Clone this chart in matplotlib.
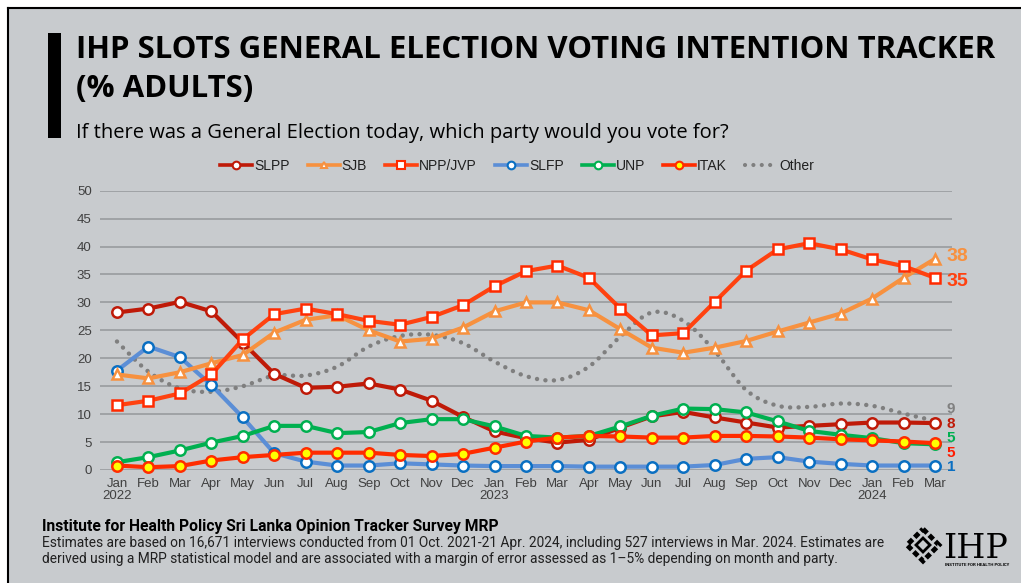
import numpy as np
import matplotlib
matplotlib.use("Agg")
import matplotlib.pyplot as plt
from matplotlib.lines import Line2D
from matplotlib.patches import Rectangle, Polygon

# ---------------- data ----------------
months = ["Jan", "Feb", "Mar", "Apr", "May", "Jun", "Jul", "Aug", "Sep", "Oct", "Nov", "Dec",
          "Jan", "Feb", "Mar", "Apr", "May", "Jun", "Jul", "Aug", "Sep", "Oct", "Nov", "Dec",
          "Jan", "Feb", "Mar"]
year_labels = {0: "2022", 12: "2023", 24: "2024"}

slpp = [28.2, 28.9, 30.1, 28.4, 22.8, 17.2, 14.7, 14.9, 15.5, 14.4, 12.4, 9.5,
        6.9, 5.7, 4.9, 5.4, 7.6, 9.6, 10.4, 9.4, 8.5, 7.6, 7.9, 8.2,
        8.5, 8.5, 8.4]
sjb = [17.1, 16.4, 17.5, 19.1, 20.6, 24.6, 26.9, 27.7, 25.0, 23.0, 23.5, 25.5,
       28.4, 30.0, 30.0, 28.6, 25.2, 21.9, 21.0, 21.9, 23.1, 24.8, 26.4, 28.0,
       30.7, 34.4, 37.8]
npp = [11.6, 12.4, 13.7, 17.1, 23.4, 27.9, 28.9, 27.9, 26.7, 26.0, 27.4, 29.5,
       32.9, 35.6, 36.6, 34.4, 28.9, 24.1, 24.5, 30.1, 35.7, 39.5, 40.6, 39.5,
       37.7, 36.5, 34.4]
slfp = [17.8, 22.1, 20.2, 15.2, 9.4, 3.0, 1.5, 0.8, 0.8, 1.2, 1.0, 0.8,
        0.7, 0.7, 0.7, 0.6, 0.6, 0.6, 0.6, 0.9, 2.0, 2.3, 1.5, 1.1,
        0.8, 0.8, 0.8]
unp = [1.4, 2.3, 3.5, 4.9, 6.1, 7.9, 7.9, 6.6, 6.8, 8.4, 9.1, 9.1,
       7.8, 6.1, 5.8, 6.1, 7.8, 9.7, 11.0, 10.9, 10.3, 8.7, 7.0, 6.3,
       5.7, 4.8, 4.6]
itak = [0.8, 0.5, 0.7, 1.7, 2.3, 2.7, 3.1, 3.1, 3.1, 2.7, 2.5, 2.9,
        4.0, 5.1, 5.8, 6.1, 6.0, 5.8, 5.8, 6.1, 6.1, 6.0, 5.8, 5.5,
        5.3, 5.1, 4.8]
other = [23.0, 17.6, 14.6, 14.0, 15.0, 16.9, 16.9, 18.5, 22.1, 24.0, 24.2, 22.7,
         19.4, 16.8, 16.1, 18.5, 23.9, 28.2, 26.7, 21.3, 14.3, 11.5, 11.3, 11.9,
         11.5, 10.1, 8.8]

end_labels = ["38", "35", "9", "8", "5", "5", "1"]
y_ticks = [0, 5, 10, 15, 20, 25, 30, 35, 40, 45, 50]

# ---------------- style ----------------
W, H = 1021, 583
BG = "#C8CBCE"
GRID = "#9C9FA2"
C_SLPP = "#BF1A08"
C_SJB = "#F7913F"
C_NPP = "#FF4210"
C_NPP_E = "#FF2A00"
C_SLFP = "#5B8ED6"
C_SLFP_E = "#0A6FC2"
C_UNP = "#00B050"
C_ITAK = "#FF2C00"
C_OTHER = "#7F7F7F"
TXT = "#404040"


def fx(px):
    return px / W


def fy(py):
    return 1 - py / H


def catmull(x, y, n=16):
    pts = np.column_stack([x, y]).astype(float)
    P = np.vstack([pts[0], pts, pts[-1]])
    out = []
    t = np.linspace(0, 1, n, endpoint=False)[:, None]
    for i in range(len(pts) - 1):
        p0, p1, p2, p3 = P[i], P[i + 1], P[i + 2], P[i + 3]
        seg = 0.5 * (2 * p1 + (-p0 + p2) * t + (2 * p0 - 5 * p1 + 4 * p2 - p3) * t ** 2
                     + (-p0 + 3 * p1 - 3 * p2 + p3) * t ** 3)
        out.append(seg)
    out.append(pts[-1:])
    return np.vstack(out)


fig = plt.figure(figsize=(W / 100, H / 100), dpi=100, facecolor="white")
renderer = fig.canvas.get_renderer()


def fit_width(t, target_px):
    w = t.get_window_extent(renderer).width
    if w > 0:
        t.set_fontsize(t.get_fontsize() * target_px / w)
    return t.get_fontsize()


# background panel with black left/top border
fig.patches.append(Rectangle((fx(7.5), 0), 1 - fx(7.5), fy(7.5), transform=fig.transFigure,
                             facecolor=BG, edgecolor="none", zorder=-10))
fig.lines.append(Line2D([fx(7.5), fx(7.5)], [0, fy(7.5)], transform=fig.transFigure,
                        color="black", lw=1.5, zorder=-5))
fig.lines.append(Line2D([fx(7.5), 1], [fy(7.5), fy(7.5)], transform=fig.transFigure,
                        color="black", lw=1.5, zorder=-5))
# black vertical bar by title
fig.patches.append(Rectangle((fx(48), fy(138)), fx(13), (138 - 33) / H, transform=fig.transFigure,
                             facecolor="black", edgecolor="none", zorder=-5))

# titles
t1 = fig.text(fx(76), fy(58), "IHP SLOTS GENERAL ELECTION VOTING INTENTION TRACKER",
              fontfamily="Open Sans", fontweight="bold", fontsize=21.5, color="black", va="baseline")
ts = fit_width(t1, 919)
fig.text(fx(76), fy(97), "(% ADULTS)",
         fontfamily="Open Sans", fontweight="bold", fontsize=ts, color="black", va="baseline")
t3 = fig.text(fx(76), fy(138), "If there was a General Election today, which party would you vote for?",
              fontfamily="Open Sans", fontsize=13.5, color="black", va="baseline")
fit_width(t3, 652)

# axes
ax = fig.add_axes([fx(100), fy(470), fx(952 - 100), (470 - 190.7) / H])
ax.set_facecolor("none")
x = np.arange(len(months))
ax.set_xlim(-0.54, len(months) - 1 + 0.54)
ax.set_ylim(0, 50)
ax.set_yticks(y_ticks)
ax.yaxis.grid(True, color=GRID, lw=1.3)
ax.set_axisbelow(True)
for s in ax.spines.values():
    s.set_visible(False)
ax.tick_params(length=0, labelsize=9.5, labelcolor=TXT, pad=6)
ax.set_xticks(x)
ax.set_xticklabels([m + ("\n" + year_labels[i] if i in year_labels else "")
                    for i, m in enumerate(months)], fontfamily="Liberation Sans", linespacing=1.0)
for lab in ax.get_yticklabels():
    lab.set_fontfamily("Liberation Sans")

# Other (smoothed dotted line)
sm = catmull(x, other)
ax.plot(sm[:, 0], sm[:, 1], color=C_OTHER, lw=3.2, linestyle=(0, (0.01, 1.9)),
        dash_capstyle="round", zorder=2, clip_on=False)

lw = 3.0
ms = 7.5
mew = 1.8
series = [
    (slfp, C_SLFP, "o", "white", C_SLFP_E, 3),
    (slpp, C_SLPP, "o", "white", C_SLPP, 4),
    (unp, C_UNP, "o", "white", C_UNP, 5),
    (sjb, C_SJB, "^", "white", C_SJB, 6),
    (npp, C_NPP, "s", "white", C_NPP_E, 7),
    (itak, C_ITAK, "o", "#FFFF00", C_ITAK, 8),
]
for vals, col, mk, mfc, mec, z in series:
    ax.plot(x, vals, color=col, lw=lw, solid_joinstyle="round", zorder=z, clip_on=False)
    ax.plot(x, vals, linestyle="none", marker=mk, ms=ms if mk != "^" else ms - 0.5,
            mfc=mfc, mec=mec, mew=mew, zorder=z + 0.5, clip_on=False)

# end labels (offsets in data units chosen to avoid collisions)
last = len(months) - 1
label_specs = [
    (sjb[-1] + 0.4, C_SJB, 14),
    (npp[-1] - 0.6, C_NPP, 14),
    (other[-1] + 2.1, "#808080", 11),
    (slpp[-1] - 0.1, C_SLPP, 11),
    (unp[-1] + 1.1, C_UNP, 11),
    (itak[-1] - 1.67, "#FF1A00", 11),
    (slfp[-1] - 0.3, C_SLFP_E, 11),
]
for txt, (yv, col, fsz) in zip(end_labels, label_specs):
    ax.text(last + 0.38, yv, txt, color=col, fontsize=fsz, fontweight="bold",
            fontfamily="Liberation Sans", va="center", ha="left", clip_on=False)

# legend
handles = [
    Line2D([], [], color=C_SLPP, lw=2.6, marker="o", ms=5.5, mfc="white", mec=C_SLPP, mew=1.5),
    Line2D([], [], color=C_SJB, lw=2.6, marker="^", ms=5, mfc="white", mec=C_SJB, mew=1.5),
    Line2D([], [], color=C_NPP, lw=2.6, marker="s", ms=5.5, mfc="white", mec=C_NPP_E, mew=1.5),
    Line2D([], [], color=C_SLFP, lw=2.6, marker="o", ms=5.5, mfc="white", mec=C_SLFP_E, mew=1.5),
    Line2D([], [], color=C_UNP, lw=2.6, marker="o", ms=5.5, mfc="white", mec=C_UNP, mew=1.5),
    Line2D([], [], color=C_ITAK, lw=2.6, marker="o", ms=5.5, mfc="#FFFF00", mec=C_ITAK, mew=1.5),
    Line2D([], [], color=C_OTHER, lw=3.0, linestyle=(0, (0.01, 2.0)), dash_capstyle="round"),
]
names = ["SLPP", "SJB", "NPP/JVP", "SLFP", "UNP", "ITAK", "Other"]
leg = fig.legend(handles, names, loc="center", bbox_to_anchor=(fx(517), fy(166)), ncol=7,
                 frameon=False, handlelength=2.3, handletextpad=0.15, columnspacing=1.3,
                 prop={"family": "Liberation Sans", "size": 10})
for t in leg.get_texts():
    t.set_color("#202020")
for h in leg.legend_handles:
    if isinstance(h, Line2D):
        h.set_dash_capstyle("round")

# footer
f1 = fig.text(fx(42), fy(531), "Institute for Health Policy Sri Lanka Opinion Tracker Survey MRP",
              fontfamily="Roboto", fontweight="bold", fontsize=10.5, color="black", va="baseline")
fit_width(f1, 459)
f2 = fig.text(fx(42), fy(547),
              "Estimates are based on 16,671 interviews conducted from 01 Oct. 2021-21 Apr. 2024, including 527 interviews in Mar. 2024. Estimates are",
              fontfamily="Roboto", fontsize=9.5, color="#202020", va="baseline")
fs = fit_width(f2, 847)
fig.text(fx(42), fy(563),
         "derived using a MRP statistical model and are associated with a margin of error assessed as 1\u20135% depending on month and party.",
         fontfamily="Roboto", fontsize=fs, color="#202020", va="baseline")

# logo
cx, cy, r = 923, 545, 16
diamond = Polygon([(fx(cx), fy(cy - r)), (fx(cx + r), fy(cy)), (fx(cx), fy(cy + r)), (fx(cx - r), fy(cy))],
                  closed=True, transform=fig.transFigure, facecolor="none", edgecolor="black",
                  lw=3.5, linestyle=(0, (1.2, 0.6)))
fig.patches.append(diamond)
inner = Polygon([(fx(cx), fy(cy - 7)), (fx(cx + 7), fy(cy)), (fx(cx), fy(cy + 7)), (fx(cx - 7), fy(cy))],
                closed=True, transform=fig.transFigure, facecolor="none", edgecolor="black", lw=2)
fig.patches.append(inner)
fig.text(fx(943), fy(558), "IHP", fontfamily="DejaVu Serif", fontsize=24, color="black", va="baseline")
fig.text(fx(945), fy(566), "INSTITUTE FOR HEALTH POLICY", fontfamily="Roboto", fontweight="bold",
         fontsize=3.2, color="black", va="baseline")

fig.savefig("out.png", dpi=100, facecolor="white")
